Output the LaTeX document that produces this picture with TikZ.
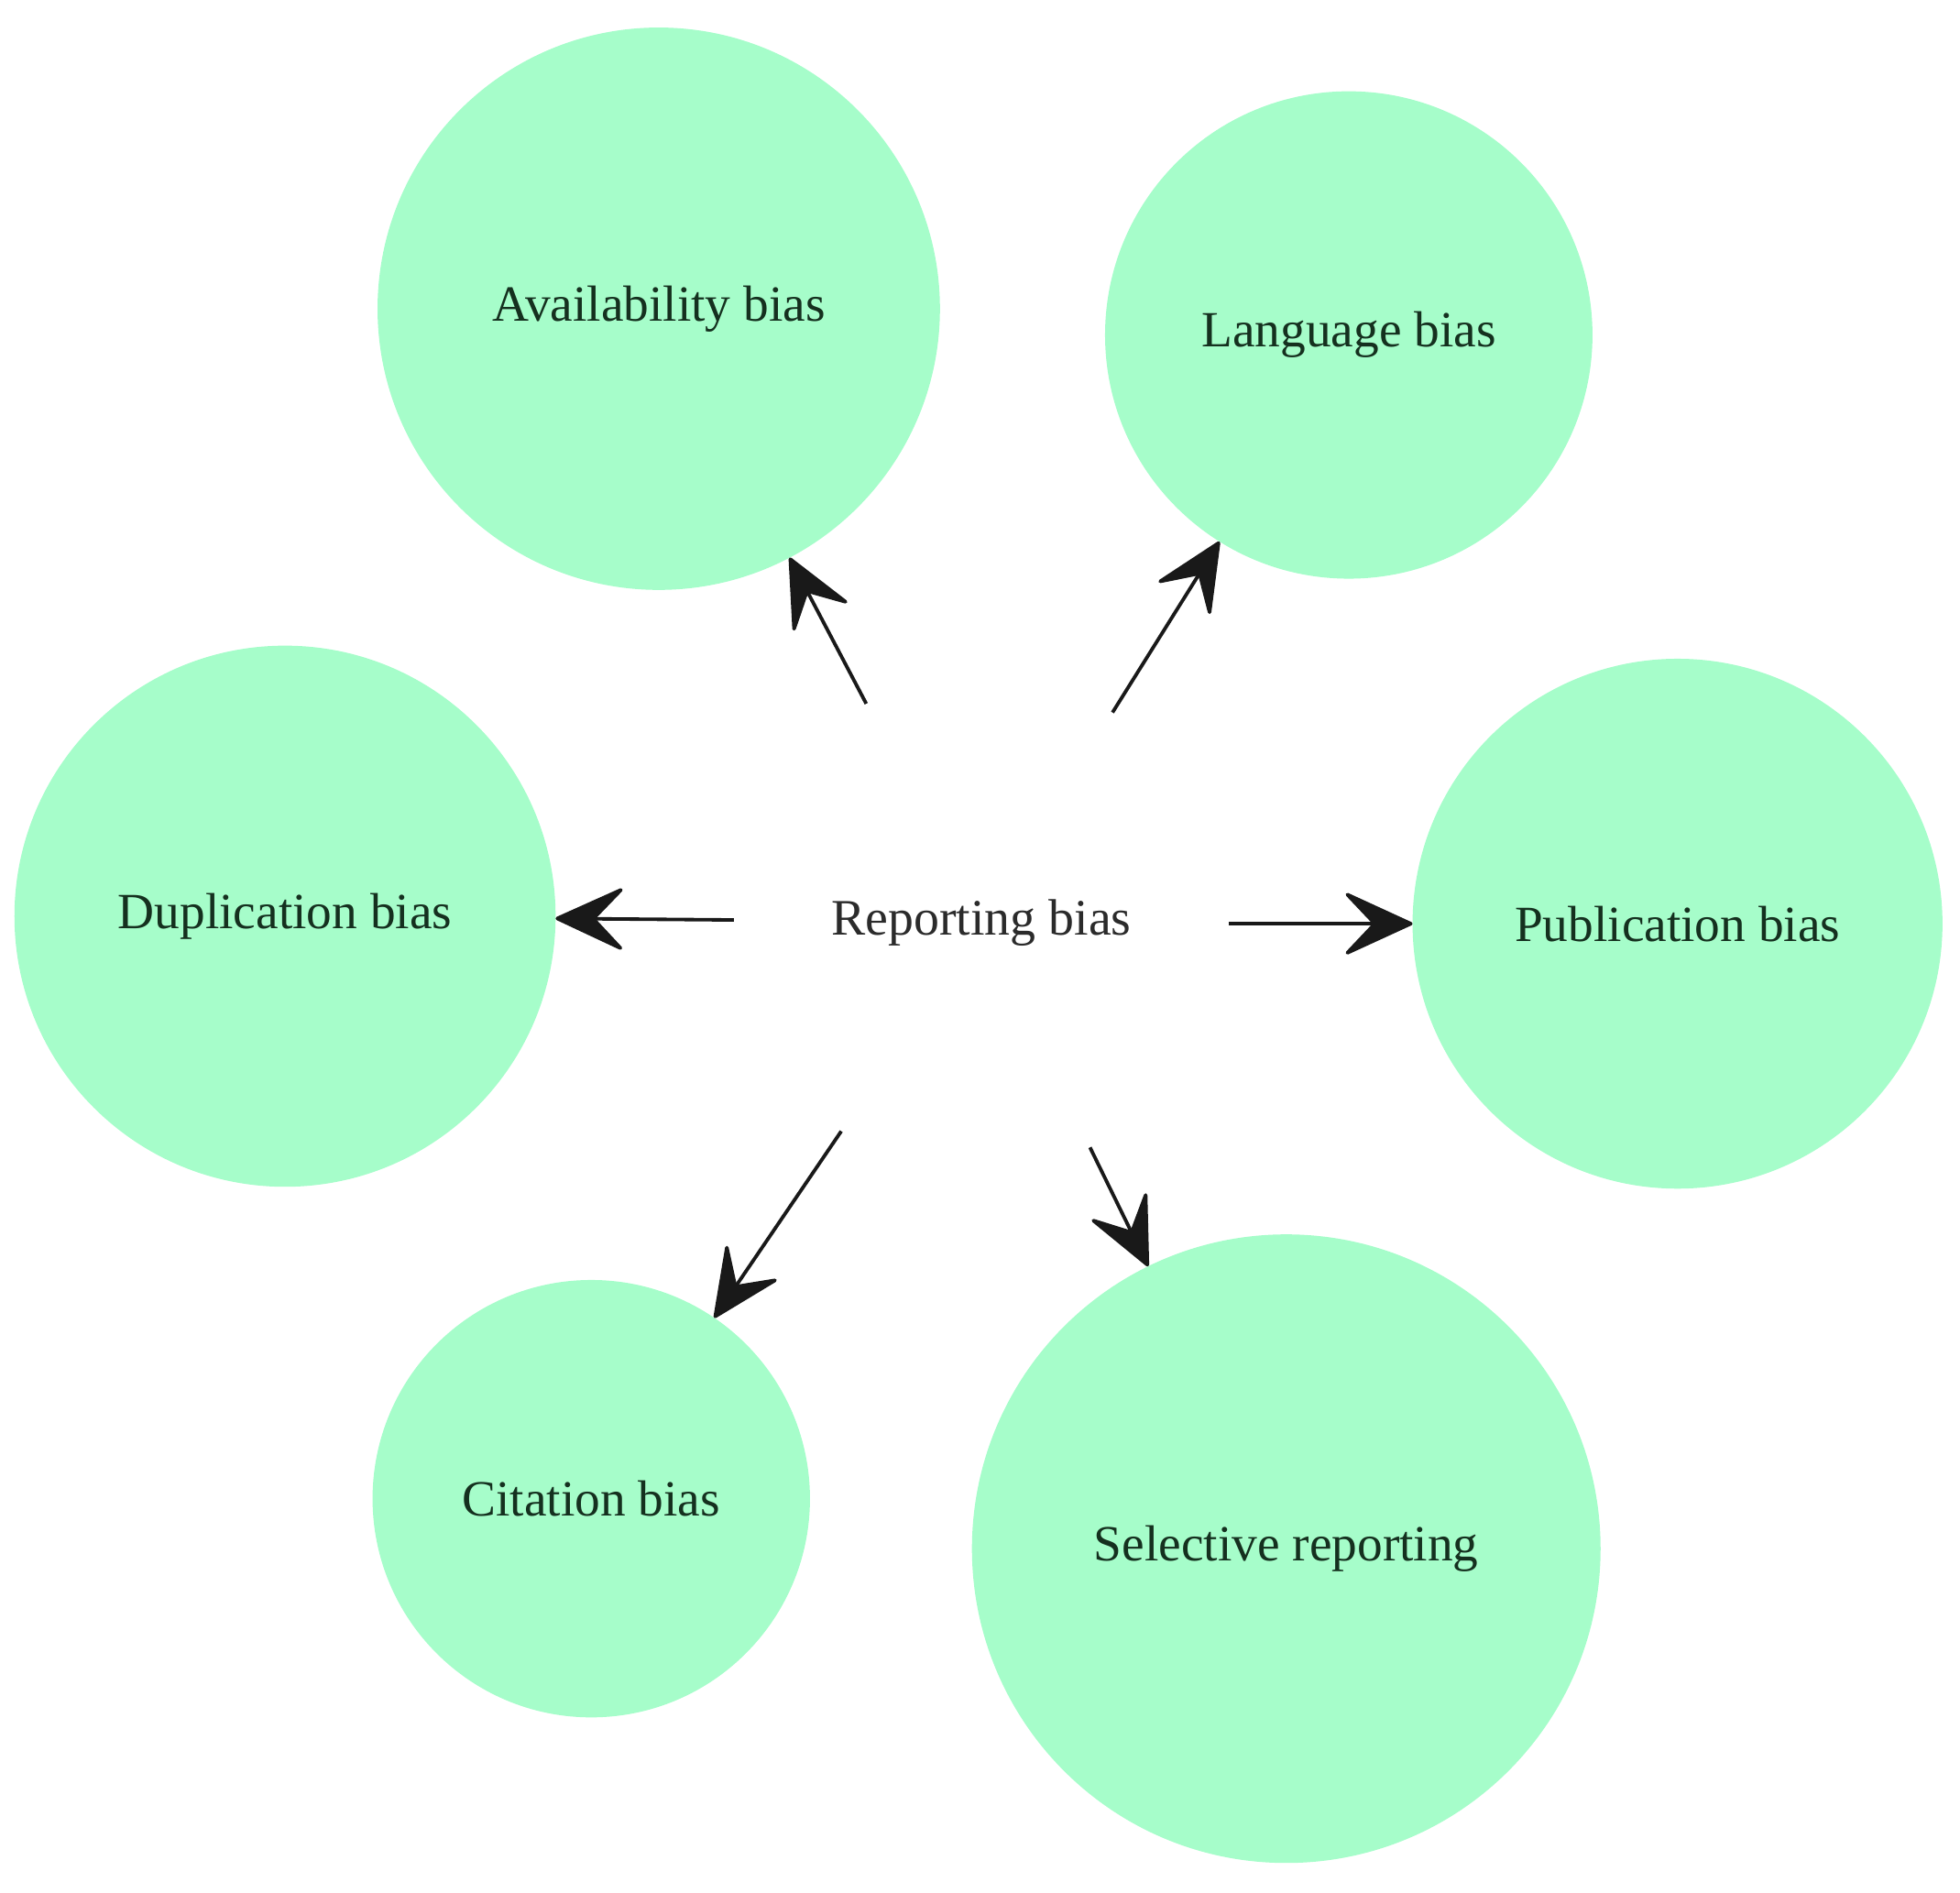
\documentclass[tikz,border=0pt]{standalone}
\usepackage{fontspec}
\setmainfont{Liberation Serif}
\usetikzlibrary{arrows.meta}
\definecolor{mint}{HTML}{A6FDCA}
\definecolor{labelgreen}{HTML}{15301F}
\definecolor{centertext}{HTML}{2B2B2B}
\tikzset{
  bubble/.style={circle, fill=mint, draw=none, inner sep=0pt, outer sep=0pt,
    text=labelgreen, font=\fontsize{23.1}{27}\selectfont},
  link/.style={line width=1.6pt, draw=black!90,
    -{Stealth[length=1.2cm, width=1.1cm, inset=0.52cm, round]}}
}
\begin{document}
\begin{tikzpicture}[x=0.02cm, y=-0.02cm]
\useasboundingbox (0,0) rectangle (1568,1514);
\node[bubble, minimum size=9cm]    (avail) at (527,247)  {Availability bias};
\node[bubble, minimum size=7.8cm]  (lang)  at (1079,268) {Language bias};
\node[bubble, minimum size=8.66cm] (dup)   at (228,733)  {Duplication bias};
\node[bubble, minimum size=8.48cm] (pub)   at (1342,739) {Publication bias};
\node[bubble, minimum size=7cm]    (cit)   at (473,1199) {Citation bias};
\node[bubble, minimum size=10.06cm](sel)   at (1029,1239){Selective reporting};
\node[text=centertext, font=\fontsize{23.3}{27}\selectfont] (rep) at (785,738) {Reporting bias};
\coordinate (sA) at (693,563);
\coordinate (sL) at (890,570);
\coordinate (sD) at (587,736);
\coordinate (sP) at (983,739);
\coordinate (sC) at (673,905);
\coordinate (sS) at (872,918);
\draw[link] (sA) -- (avail);
\draw[link] (sL) -- (lang);
\draw[link] (sD) -- (dup);
\draw[link] (sP) -- (pub);
\draw[link] (sC) -- (cit);
\draw[link] (sS) -- (sel);
\end{tikzpicture}
\end{document}
